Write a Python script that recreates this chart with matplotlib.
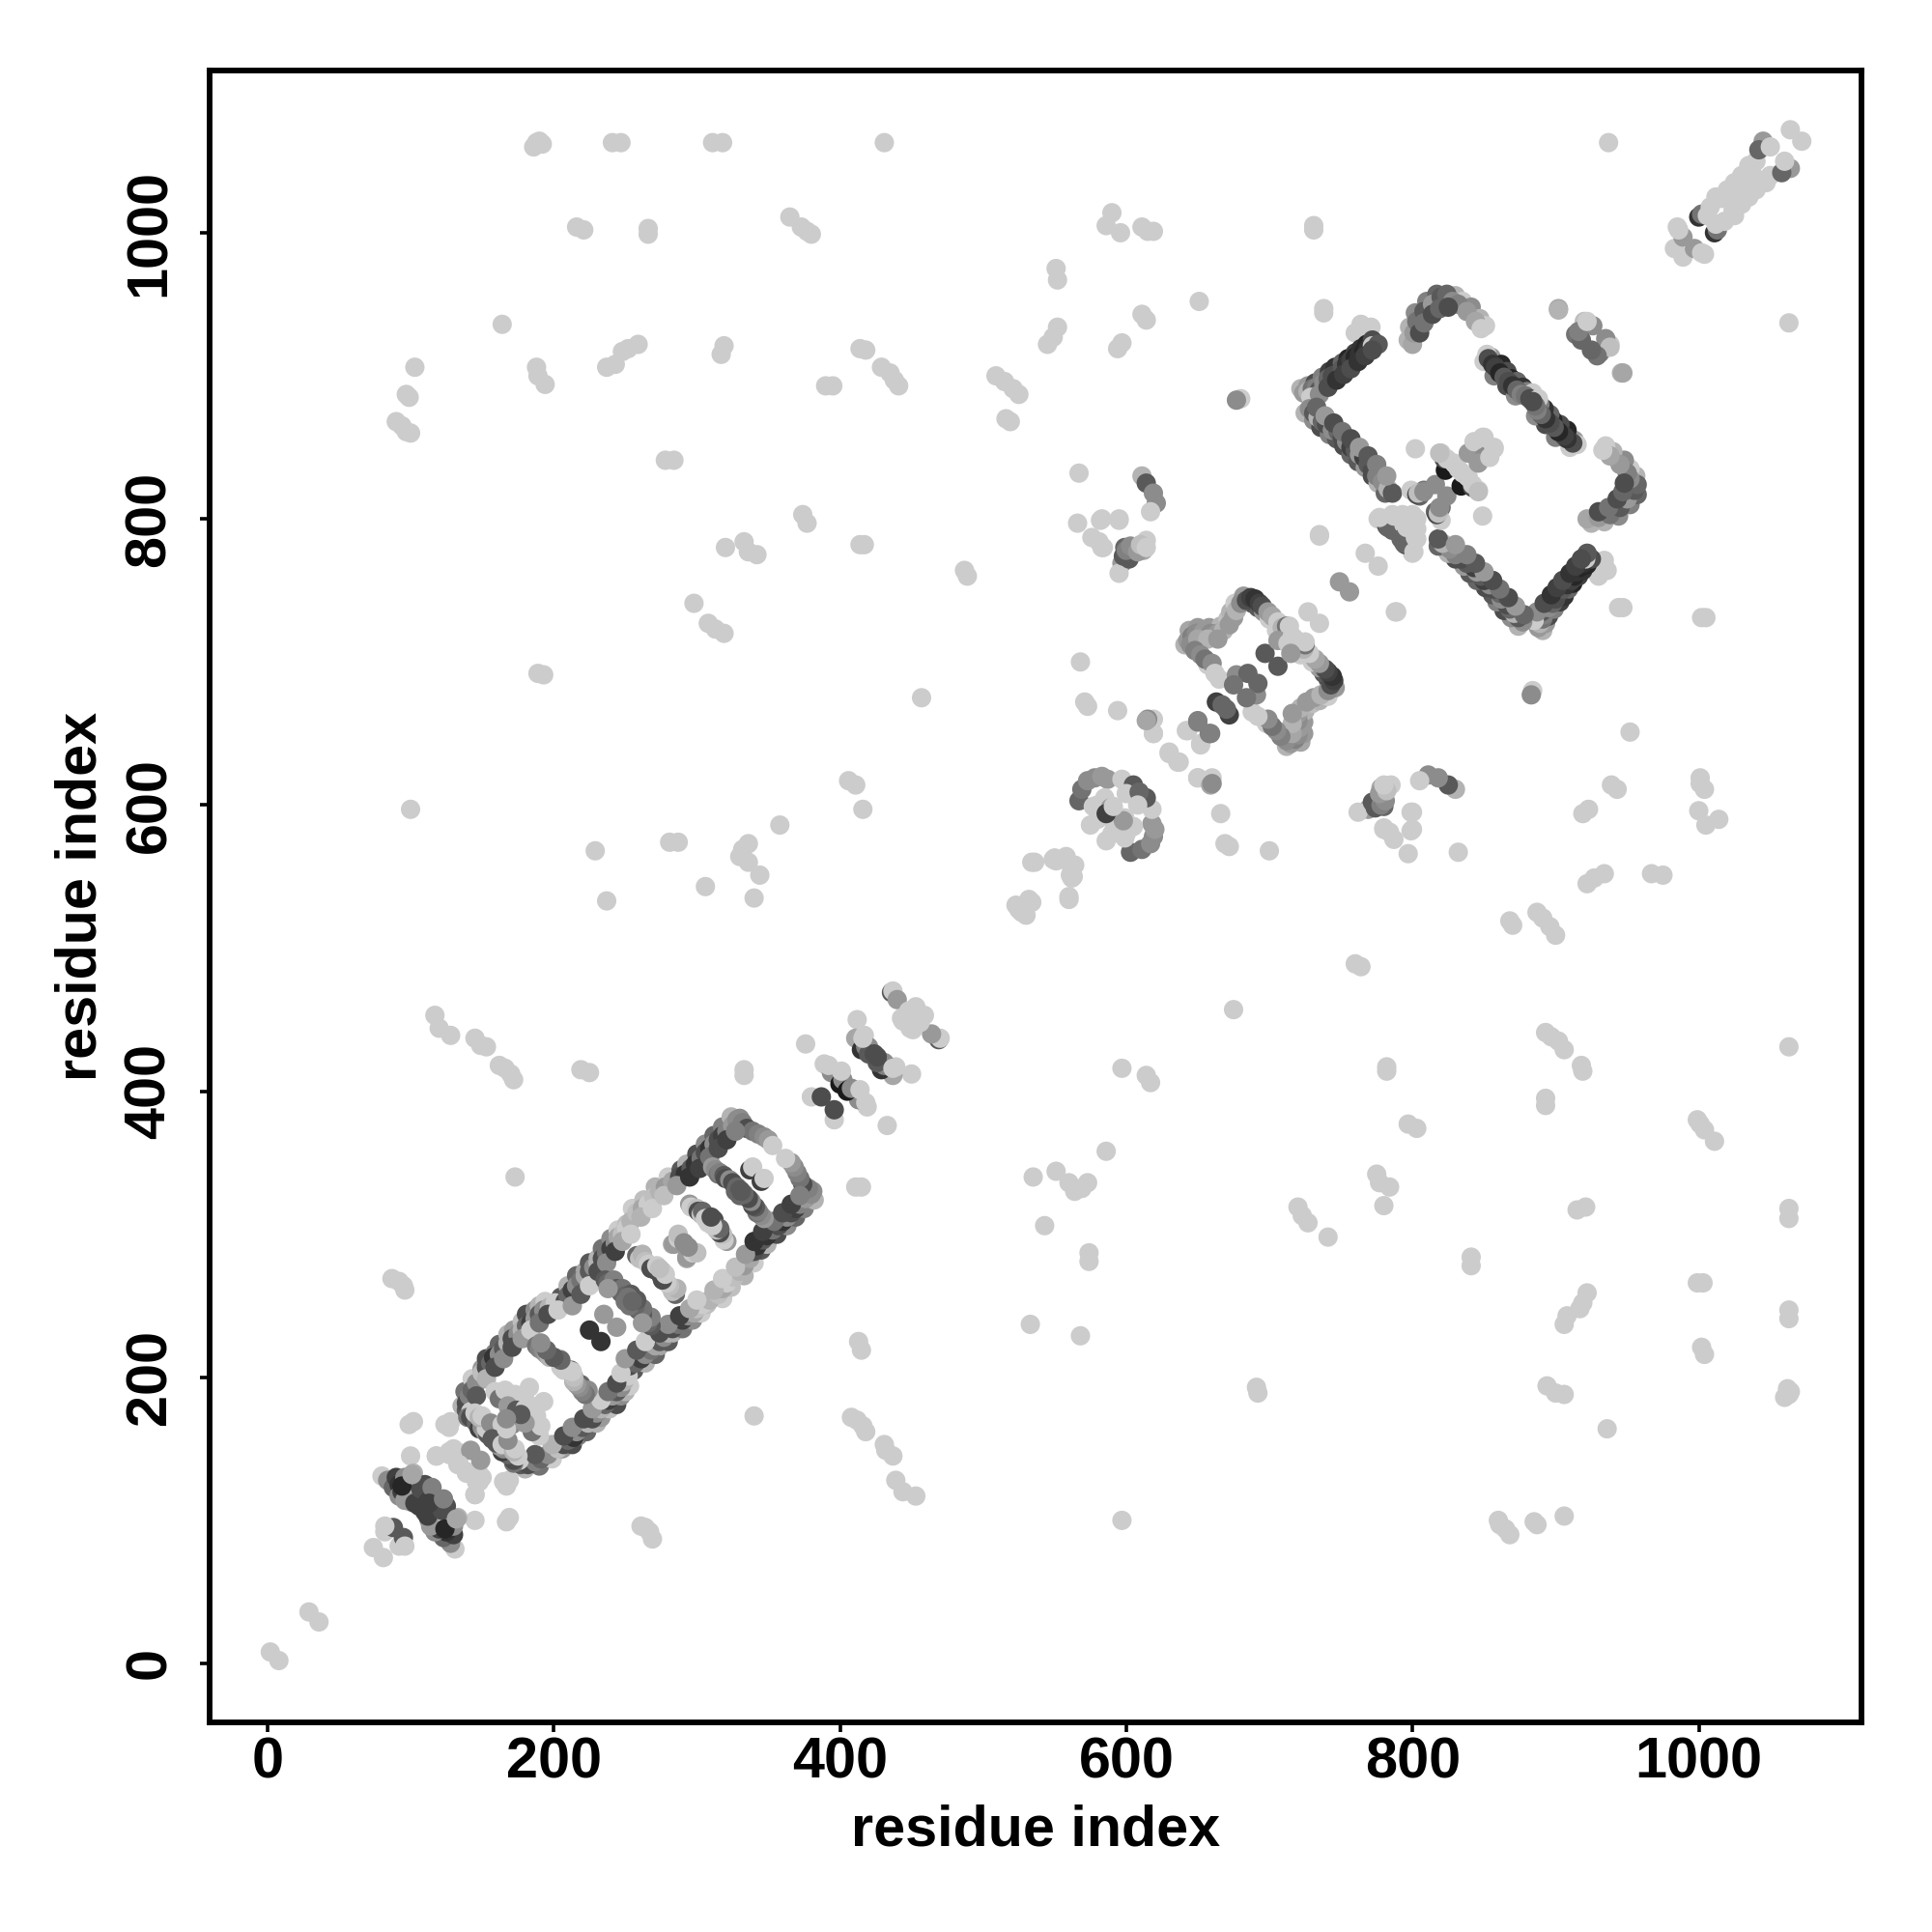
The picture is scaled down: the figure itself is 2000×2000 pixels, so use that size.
import matplotlib
matplotlib.use('Agg')
import matplotlib.pyplot as plt

plt.rcParams['font.family'] = ['Liberation Sans', 'DejaVu Sans']
plt.rcParams['font.weight'] = 'bold'

TICKS = [0, 200, 400, 600, 800, 1000]
AXIS_LABEL = 'residue index'
FAR_GRAY = 0.8

# long range contacts, all about the same light gray (i, j)
FAR_CONTACTS = [
    (2, 8), (29, 36), (74, 81),
    (186, 1060), (188, 1063), (190, 1064), (192, 1062), (241, 1063), (247, 1063),
    (311, 1063), (318, 1063), (431, 1063), (937, 1063),
    (216, 1004), (221, 1002), (266, 1003), (266, 999),
    (365, 1011), (373, 1004), (377, 1001), (380, 999),
    (590, 1014), (586, 1005), (596, 1000), (611, 1004), (615, 1001), (619, 1001),
    (731, 1005), (731, 1002), (551, 975), (552, 967), (651, 952),
    (552, 934), (549, 927), (545, 922), (594, 919), (597, 923),
    (611, 943), (614, 939), (164, 936), (738, 947), (738, 944),
    (103, 906), (188, 906), (189, 900), (194, 894),
    (97, 887), (99, 885), (90, 868), (94, 865), (97, 861), (100, 860),
    (237, 906), (243, 908), (248, 917), (252, 919), (259, 922), (319, 921), (317, 915),
    (414, 919), (418, 918), (429, 906), (435, 902), (438, 897), (441, 893),
    (390, 893), (395, 893), (509, 900), (515, 896), (521, 891), (525, 887),
    (516, 870), (519, 868), (278, 841), (284, 841),
    (567, 832), (566, 797), (582, 799), (595, 799), (581, 784), (584, 780),
    (374, 803), (377, 797), (320, 780), (333, 784), (336, 777), (342, 775),
    (414, 782), (417, 782), (298, 741), (308, 727), (313, 723), (319, 720),
    (189, 692), (193, 691), (487, 764), (489, 760),
    (568, 700), (571, 672), (573, 669), (594, 666), (457, 675),
    (406, 617), (411, 614), (416, 597), (100, 597), (358, 586), (229, 568),
    (281, 574), (287, 574), (332, 569), (336, 573), (330, 564), (336, 560), (344, 551),
    (306, 543), (340, 535), (237, 533),
    (536, 560), (549, 562), (558, 562), (562, 556), (562, 550), (560, 534),
    (527, 525), (523, 530), (532, 534), (550, 563), (558, 564), (561, 551),
    (117, 453), (120, 444), (128, 439), (145, 437), (149, 432), (153, 431),
    (162, 418), (166, 416), (170, 412), (172, 408), (219, 415), (225, 413),
    (333, 415), (333, 411), (376, 433), (412, 450),
    (173, 340), (87, 269), (92, 267), (95, 264), (96, 261),
    (99, 167), (102, 169), (124, 167), (128, 169), (100, 145), (118, 145), (127, 146),
    (133, 139), (139, 134), (148, 127), (145, 118), (135, 147), (130, 150),
    (619, 650), (619, 660), (630, 636), (637, 630), (650, 619), (652, 643), (642, 652),
    (680, 884), (771, 934), (764, 936), (760, 930), (735, 789), (788, 735),
]

# helix bundle around residues 140-380 (i, j, gray)
BUNDLE_OUTER = [
    (136, 180, .7), (138, 190, .45), (143, 199, .8), (150, 206, .6), (153, 213, .3), (159, 217, .5), (162, 223, .4),
    (168, 230, .7), (172, 233, .6), (178, 239, .75), (181, 244, .3), (187, 247, .55), (190, 250, .7), (194, 253, .8),
    (205, 256, .35), (210, 264, .7), (216, 271, .4), (222, 274, .65), (225, 280, .35), (231, 283, .7), (234, 290, .45),
    (240, 297, .55), (245, 303, .8), (251, 307, .75), (255, 318, .8), (263, 324, .75), (271, 333, .7), (280, 340, .8),
    (289, 345, .35), (293, 349, .7), (300, 356, .3), (306, 363, .55), (312, 369, .4), (318, 375, .5), (324, 382, .7),
]
BUNDLE_I = [139, 139, 141, 143, 146, 150, 153, 156, 158, 162, 165, 168, 171, 175, 178, 181, 184, 187, 190, 193,
            197, 201, 208, 210, 213, 216, 219, 222, 225, 228, 231, 234, 237, 240, 243, 245, 248, 251, 254, 258,
            262, 266, 270, 274, 278, 283, 288, 292, 296, 299, 303, 306, 309, 312, 315, 318, 321, 325, 328,
            330, 332, 335, 339, 343, 347, 350, 353]
BUNDLE_J = [177, 182, 187, 191, 196, 203, 207, 210, 214, 216, 220, 224, 227, 230, 233, 236, 238, 241, 244, 247,
            249, 252, 253, 257, 261, 264, 268, 271, 274, 277, 280, 283, 287, 290, 294, 298, 300, 304, 309, 315,
            318, 321, 326, 330, 333, 337, 340, 342, 346, 349, 353, 357, 360, 363, 366, 369, 372, 376, 380,
            381, 378, 374, 372, 370, 368, 366, 362]
BUNDLE_G = [.35, .3, .5, .4, .55, .75, .3, .4, .2, .55, .35, .7, .3, .55, .7, .4, .25, .6, .35, .55,
            .7, .8, .3, .4, .25, .55, .45, .65, .35, .55, .7, .3, .45, .25, .55, .65, .75, .8, .7, .75,
            .65, .8, .75, .7, .6, .65, .3, .2, .35, .2, .45, .3, .2, .55, .3, .25, .5, .6, .55,
            .55, .5, .3, .45, .5, .55, .6, .8]
BUNDLE_INNER = [
    (142, 176, .8), (146, 187, .35), (153, 199, .7), (159, 207, .3), (165, 213, .55), (171, 221, .3), (178, 227, .6),
    (184, 233, .8), (190, 238, .45), (196, 244, .3), (203, 247, .8), (213, 250, .6), (219, 258, .35), (225, 264, .8),
    (231, 274, .3), (237, 280, .55), (243, 288, .25), (248, 295, .65), (254, 300, .8), (261, 312, .7), (269, 318, .8),
    (277, 327, .75), (286, 334, .6), (295, 340, .2), (302, 346, .25), (309, 354, .45), (315, 360, .3), (321, 366, .25),
    (327, 372, .5),
]

# rungs across the bundle (i, j, gray)
RUNGS = [
    (140, 172, .45), (142, 172, .3), (145, 170, .3), (146, 168, .4), (148, 164, .25), (150, 165, .55), (152, 162, .6),
    (154, 160, .35), (157, 157, .35), (153, 164, .8), (145, 175, .8), (148, 172, .7), (150, 173, .8), (156, 168, .55),
    (159, 190, .8), (162, 185, .45), (166, 191, .8), (173, 188, .8), (183, 193, .8), (180, 184, .8), (178, 180, .8),
    (168, 180, .6), (164, 167, .8), (174, 177, .35), (171, 167, .55),
    (188, 222, .45), (190, 220, .5), (193, 218, .55), (195, 216, .6), (197, 214, .7), (200, 214, .75), (204, 213, .8),
    (205, 210, .8), (207, 205, .8), (212, 205, .4), (214, 200, .35), (219, 195, .4), (224, 191, .55),
    (236, 268, .35), (238, 266, .4), (241, 264, .3), (242, 268, .5), (244, 262, .35), (247, 259, .4), (248, 262, .45),
    (250, 257, .4), (250, 253, .45), (254, 258, .35), (238, 262, .6), (256, 252, .45), (253, 255, .4),
    (235, 244, .6), (225, 233, .2),
    (258, 285, .4), (260, 283, .75), (262, 286, .7), (264, 281, .75), (266, 279, .8), (268, 276, .3), (271, 275, .3),
    (272, 278, .8), (276, 274, .75), (283, 293, .65), (284, 293, .6), (287, 297, .8), (287, 300, .75), (291, 294, .55),
    (295, 321, .6), (296, 319, .8), (300, 318, .75), (301, 316, .3), (303, 314, .75), (304, 316, .4), (306, 311, .8),
    (308, 308, .8), (312, 310, .3),
    (311, 347, .6), (313, 345, .55), (315, 342, .45), (316, 343, .5), (319, 341, .35), (320, 339, .3), (323, 338, .55),
    (325, 336, .3), (328, 333, .4), (327, 330, .4), (330, 331, .35),
    (337, 345, .25), (339, 347, .8),
]

# short bundle around residues 80-130 and the stretch 380-470
LOW_CONTACTS = [
    (80, 131, .8), (84, 128, .55), (86, 127, .55), (88, 123, .4), (90, 130, .25), (92, 125, .2), (92, 117, .55),
    (94, 120, .25), (96, 130, .55), (96, 122, .25), (96, 114, .6), (100, 127, .2), (100, 119, .6), (102, 133, .7),
    (100, 113, .6), (103, 112, .25), (106, 110, .25), (104, 125, .8), (107, 122, .3), (110, 125, .3), (112, 113, .25),
    (115, 123, .5), (94, 124, .15), (101, 132, .65),
    (82, 92, .8), (88, 95, .35), (82, 96, .8), (142, 149, .6), (139, 134, .8),
    (165, 127, .8),
    (380, 396, .8), (387, 396, .3), (389, 419, .8), (394, 413, .55), (400, 405, .1), (401, 406, .1), (402, 408, .55),
    (401, 414, .8), (392, 418, .8), (411, 437, .65), (415, 429, .2), (418, 431, .5), (417, 439, .8), (420, 431, .55),
    (420, 426, .35), (424, 426, .3), (416, 437, .8),
    (436, 469, .35), (437, 470, .8), (440, 464, .6), (444, 449, .8), (448, 456, .8), (453, 459, .8), (443, 451, .8),
]

# blocks around residues 570-620 and 640-740
MID_CONTACTS = [
    (567, 603, .4), (569, 611, .45), (573, 617, .55), (578, 619, .55), (583, 620, .6), (587, 618, .6),
    (597, 618, .8), (605, 614, .35), (609, 609, .4), (577, 599, .8), (575, 586, .8), (580, 590, .8),
    (585, 605, .8), (590, 590, .8), (580, 600, .8), (600, 608, .8),
    (589, 598, .6), (594, 586, .25), (599, 591, .8),
    (615, 660, .55), (650, 659, .5), (658, 650, .5), (659, 614, .65),
    (641, 712, .7), (644, 722, .65), (650, 724, .6), (658, 724, .6), (666, 725, .7), (671, 730, .75), (673, 735, .7),
    (676, 741, .8), (682, 746, .6), (688, 741, .3), (692, 738, .35), (696, 735, .6), (700, 730, .8), (705, 722, .8),
    (710, 719, .7), (713, 713, .8),
    (643, 715, .6), (646, 718, .5), (649, 720, .55), (654, 721, .6), (659, 720, .55), (664, 720, .6),
    (668, 722, .7), (672, 726, .6), (675, 731, .6), (677, 736, .7), (680, 741, .55), (684, 743, .3),
    (687, 745, .25), (690, 744, .2), (693, 741, .25), (695, 739, .3), (699, 735, .6), (702, 732, .65),
    (706, 728, .8), (709, 724, .7), (712, 725, .45), (714, 725, .8), (718, 716, .8),
    (645, 712, .55), (650, 716, .65), (657, 716, .7), (664, 716, .6), (648, 708, .5), (652, 705, .55), (657, 698, .8),
    (697, 706, .35), (706, 715, .6), (655, 702, .45), (660, 699, .55), (662, 692, .8), (665, 688, .8),
    (663, 672, .25), (667, 670, .4), (677, 691, .55), (685, 692, .4), (675, 684, .45),
    (727, 735, .8),
    (611, 830, .7), (614, 825, .35), (619, 818, .55), (621, 811, .55), (617, 805, .8),
    (583, 800, .8), (595, 800, .8), (576, 787, .8), (583, 780, .8), (599, 780, .4), (597, 769, .6),
    (614, 785, .8), (612, 778, .65), (595, 762, .8), (602, 772, .35),
    (598, 774, .35), (600, 778, .5), (603, 781, .55), (608, 777, .6), (610, 782, .75), (614, 780, .8),
    (677, 883, .55), (749, 756, .6), (767, 776, .8),
]

# loop block around residues 720-960
TOP_CONTACTS = [
    (722, 891, .7), (727, 893, .6), (732, 895, .3), (737, 899, .5), (742, 903, .25), (746, 906, .2), (751, 909, .4),
    (755, 912, .15), (760, 916, .25), (764, 919, .2), (768, 922, .15), (772, 925, .3),
    (724, 888, .6), (727, 889, .7), (730, 891, .45), (733, 892, .5), (735, 890, .35), (738, 895, .55), (741, 898, .4),
    (744, 900, .3), (748, 902, .3), (751, 905, .35), (754, 908, .2), (757, 911, .25), (760, 913, .15),
    (763, 915, .2), (766, 917, .15), (769, 919, .2), (772, 921, .8), (776, 922, .35),
    (729, 885, .8), (735, 887, .55), (741, 892, .3), (747, 897, .2), (752, 901, .25), (757, 905, .3), (762, 910, .2),
    (767, 914, .25), (772, 918, .3),
    (725, 874, .7), (731, 869, .55), (736, 864, .3), (742, 859, .5), (747, 856, .35), (752, 851, .3), (757, 845, .4),
    (762, 840, .35), (767, 836, .6), (772, 830, .3), (776, 825, .7), (781, 818, .4),
    (728, 877, .55), (731, 874, .35), (734, 871, .7), (737, 868, .4), (740, 866, .3), (744, 862, .55), (748, 861, .4),
    (751, 857, .3), (754, 854, .55), (757, 850, .25), (760, 848, .35), (763, 845, .6), (766, 843, .25),
    (769, 838, .35), (772, 834, .3), (775, 830, .5), (779, 826, .55), (783, 821, .7), (786, 818, .35),
    (733, 878, .4), (739, 872, .6), (745, 867, .3), (751, 861, .45), (757, 856, .3), (763, 850, .6), (769, 844, .35),
    (775, 838, .5), (782, 830, .6),
    (797, 925, .7), (798, 934, .7), (802, 944, .55), (810, 952, .5), (817, 957, .4), (823, 953, .2), (830, 956, .7),
    (835, 952, .8), (841, 948, .55), (847, 940, .7), (851, 935, .8),
    (800, 922, .65), (801, 930, .6), (803, 938, .45), (808, 945, .35), (814, 950, .6), (820, 955, .35),
    (824, 957, .4), (828, 952, .55), (832, 950, .5), (838, 945, .6), (844, 938, .65), (848, 933, .8),
    (805, 930, .3), (808, 937, .45), (814, 943, .3), (819, 947, .4), (825, 948, .3),
    (850, 910, .8), (855, 913, .6), (858, 903, .3), (862, 908, .15), (866, 903, .3), (869, 898, .15), (873, 896, .4),
    (877, 892, .2), (880, 889, .5), (857, 900, .5), (866, 893, .3), (872, 886, .55), (884, 888, .8),
    (852, 915, .8), (853, 912, .3), (856, 908, .2), (858, 906, .25), (861, 902, .15), (864, 899, .35),
    (867, 896, .3), (870, 893, .2), (873, 890, .4), (876, 887, .5), (879, 886, .45), (882, 884, .3),
    (776, 800, .8), (782, 795, .3), (783, 794, .4), (786, 792, .4), (777, 801, .8), (786, 803, .8), (787, 802, .8),
    (791, 802, .8), (793, 803, .8), (794, 796, .8), (800, 803, .8),
    (799, 820, .8), (805, 816, .4), (808, 820, .45), (803, 817, .3), (804, 818, .75), (808, 819, .55), (816, 824, .55),
    (802, 849, .8), (823, 834, .1), (822, 842, .3), (820, 846, .8), (824, 842, .8), (829, 839, .8), (830, 838, .8),
    (832, 835, .8), (843, 850, .55), (839, 846, .6), (819, 846, .75), (843, 854, .8), (850, 857, .8), (849, 857, .8),
    (902, 947, .65), (926, 935, .55), (920, 938, .75), (914, 929, .45), (918, 925, .4), (931, 916, .5), (938, 922, .8),
    (946, 902, .7),
]

# short contacts at the far end of the chain
END_CONTACTS = [
    (983, 989, .8), (985, 1004, .8), (989, 997, .6), (986, 1002, .8), (1000, 1011, .2), (1002, 1013, .45),
    (1006, 1012, .8), (1008, 1018, .8), (1012, 1025, .8), (1016, 1024, .8), (1020, 1030, .8), (1024, 1028, .8),
    (1025, 1035, .8), (1030, 1036, .8), (1030, 1040, .8), (1035, 1047, .8), (1037, 1042, .8), (1040, 1050, .8),
    (1045, 1064, .6), (1042, 1058, .4), (1050, 1060, .8), (1064, 1072, .8),
]


def draw_contacts(ax, i_vals, j_vals, grays):
    colors = [str(g) for g in grays]
    # the map is symmetric, every contact shows on both sides of the diagonal
    ax.scatter(list(i_vals) + list(j_vals), list(j_vals) + list(i_vals), s=52, c=colors + colors,
               linewidths=0, zorder=2)


def main():
    fig = plt.figure(figsize=(10, 10), dpi=200)
    ax = fig.add_axes([217 / 2000, 1 - 1783 / 2000, 1710 / 2000, 1710 / 2000])

    far_i = [c[0] for c in FAR_CONTACTS]
    far_j = [c[1] for c in FAR_CONTACTS]
    draw_contacts(ax, far_i, far_j, [FAR_GRAY] * len(far_i))
    for group in [BUNDLE_OUTER]:
        draw_contacts(ax, [c[0] for c in group], [c[1] for c in group], [c[2] for c in group])
    draw_contacts(ax, BUNDLE_I, BUNDLE_J, BUNDLE_G)
    for group in [BUNDLE_INNER, RUNGS, LOW_CONTACTS, MID_CONTACTS, TOP_CONTACTS, END_CONTACTS]:
        draw_contacts(ax, [c[0] for c in group], [c[1] for c in group], [c[2] for c in group])

    ax.set_xlim(-40.4, 1113.7)
    ax.set_ylim(-41.2, 1113.4)
    ax.set_xticks(TICKS)
    ax.set_yticks(TICKS)
    ax.tick_params(axis='x', width=1.3, length=3.5, labelsize=21.4, pad=1.6)
    ax.tick_params(axis='y', width=1.3, length=3.5, labelsize=21.4, pad=8.7)
    for label in ax.get_yticklabels():
        label.set_rotation(90)
        label.set_va('center')
    for spine in ax.spines.values():
        spine.set_linewidth(2.1)
    ax.set_xlabel(AXIS_LABEL, fontsize=21.4, fontweight='bold', labelpad=5.4)
    ax.set_ylabel(AXIS_LABEL, fontsize=21.4, fontweight='bold', labelpad=5.8)

    fig.savefig('out.png', dpi=200)
    plt.close()


if __name__ == '__main__':
    main()
